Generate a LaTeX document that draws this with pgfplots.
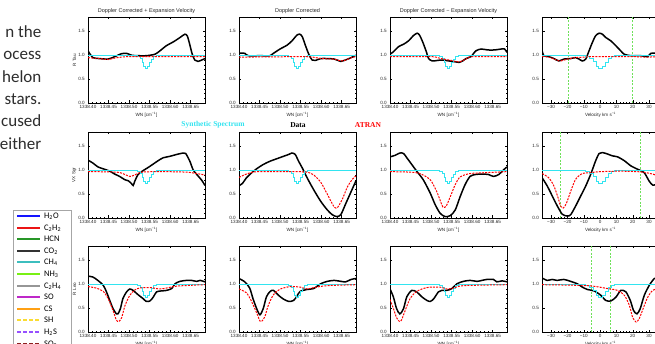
\documentclass[border=0pt]{standalone}
\usepackage{pgfplots}
\pgfplotsset{compat=1.18}
\usepackage{fontspec}
\setmainfont{Carlito}
\newfontfamily\lsans{Liberation Sans}
\newfontfamily\lserif{Liberation Serif}
\definecolor{cyanS}{RGB}{50,228,240}
\definecolor{grn}{RGB}{110,225,90}
\definecolor{slidetxt}{RGB}{45,45,45}
\definecolor{lgH2O}{RGB}{20,20,255}
\definecolor{lgCtwoHtwo}{RGB}{235,20,20}
\definecolor{lgHCN}{RGB}{40,150,40}
\definecolor{lgCOtwo}{RGB}{50,50,50}
\definecolor{lgCHfour}{RGB}{60,190,190}
\definecolor{lgNHthree}{RGB}{120,240,20}
\definecolor{lgCtwoHfour}{RGB}{150,150,150}
\definecolor{lgSO}{RGB}{190,40,200}
\definecolor{lgCS}{RGB}{255,160,20}
\definecolor{lgSH}{RGB}{250,220,50}
\definecolor{lgHtwoS}{RGB}{150,80,255}
\definecolor{lgSOtwo}{RGB}{140,30,30}
\pgfplotsset{
 panel/.style={scale only axis, width=117pt, height=86pt, anchor=south west,
   ymin=0, ymax=1.8, ytick={0,0.5,1,1.5}, yticklabels={0.0,0.5,1.0,1.5},
   minor y tick num=4, tick align=inside, major tick length=2.5pt, minor tick length=1.3pt,
   every tick/.style={black, line width=0.3pt},
   axis line style={line width=0.4pt},
   tick label style={font=\fontsize{4.6}{5}\selectfont\lsans, inner sep=1pt, text=black!85},
   label style={font=\fontsize{4.6}{5}\selectfont\lsans, inner sep=1pt, text=black!85},
   xlabel style={yshift=-1.5pt},
   title style={font=\fontsize{5.5}{6}\selectfont\lsans, inner sep=1pt, yshift=-4pt, text=black!85},
   xticklabel style={yshift=-1pt},
   yticklabel style={xshift=-2pt},
   clip=true},
 wn/.style={xmin=1338.40, xmax=1338.685,
   xtick={1338.40,1338.45,1338.50,1338.55,1338.60,1338.65},
   xticklabels={1338.40,1338.45,1338.50,1338.55,1338.60,1338.65},
   minor x tick num=4, xlabel={WN [cm\textsuperscript{−1}]}},
 vel/.style={xmin=-35.6, xmax=36.1, xtick={-30,-20,-10,0,10,20,30},
   xticklabels={−30,−20,−10,0,10,20,30},
   minor x tick num=4, xlabel={Velocity km s\textsuperscript{−1}}},
 dat/.style={black, line width=1.5pt, smooth, tension=0.45},
 syn/.style={cyanS, line width=0.9pt, const plot},
 atr/.style={red, line width=1.0pt, dash pattern=on 2pt off 1.2pt, smooth, tension=0.45},
 gv/.style={grn, line width=0.5pt, dash pattern=on 2pt off 1.5pt},
}
\newcommand{\synwn}{\addplot[syn] coordinates {(1338.400,1.00) (1338.521,0.98) (1338.527,0.93) (1338.532,0.85) (1338.536,0.77) (1338.540,0.72) (1338.546,0.76) (1338.550,0.84) (1338.555,0.92) (1338.560,0.98) (1338.566,1.00) (1338.685,1.00)};}
\newcommand{\synvel}{\addplot[syn] coordinates {(-35.6,1.00) (-9,0.98) (-6.5,0.94) (-4.3,0.86) (-2.3,0.77) (-0.8,0.72) (1.5,0.76) (3.2,0.85) (5.2,0.93) (7.2,0.98) (9,1.00) (36.1,1.00)};}
\newcommand{\lgentry}[4]{%
  \draw[draw=#1, line width=2pt, #2] (17pt,-#3pt) -- (40pt,-#3pt);
  \node[anchor=west, inner sep=0pt, font=\fontsize{8.5}{9}\selectfont, text=black] at (44pt,-#3pt) {#4};}
\begin{document}
\begin{tikzpicture}
\path[use as bounding box] (0,0) rectangle (655pt,-344pt);
\clip (0,0) rectangle (655pt,-344pt);
\fill[white] (0,0) rectangle (655pt,-344pt);
% slide text
\begin{scope}[every node/.style={anchor=base east, inner sep=0pt, font=\fontsize{17}{20}\selectfont, text=slidetxt}]
\node at (41.5pt,-37.5pt) {n the};
\node at (41.5pt,-60pt) {ocess};
\node at (41.5pt,-82.3pt) {helon};
\node at (41.5pt,-104.2pt) {stars.};
\node at (41.5pt,-126.8pt) {cused};
\node at (41.5pt,-149.5pt) {either};
\end{scope}
% legend
\draw[black!35, line width=0.5pt] (13pt,-210pt) rectangle (71pt,-360pt);
\lgentry{lgH2O}{solid}{216}{H\textsubscript{2}O}
\lgentry{lgCtwoHtwo}{solid}{228}{C\textsubscript{2}H\textsubscript{2}}
\lgentry{lgHCN}{solid}{239}{HCN}
\lgentry{lgCOtwo}{solid}{251}{CO\textsubscript{2}}
\lgentry{lgCHfour}{solid}{262}{CH\textsubscript{4}}
\lgentry{lgNHthree}{solid}{274}{NH\textsubscript{3}}
\lgentry{lgCtwoHfour}{solid}{286}{C\textsubscript{2}H\textsubscript{4}}
\lgentry{lgSO}{solid}{297}{SO}
\lgentry{lgCS}{solid}{309}{CS}
\lgentry{lgSH}{dash pattern=on 4pt off 2pt}{320}{SH}
\lgentry{lgHtwoS}{dash pattern=on 4pt off 2pt}{332}{H\textsubscript{2}S}
\lgentry{lgSOtwo}{dash pattern=on 4pt off 2pt}{344}{SO\textsubscript{2}}
% row 2 captions
\node[font=\fontsize{7.5}{8}\selectfont\lserif\bfseries, text=cyanS] at (213pt,-125pt) {Synthetic Spectrum};
\node[font=\fontsize{7.5}{8}\selectfont\lserif\bfseries, text=black] at (298pt,-125pt) {Data};
\node[font=\fontsize{7.5}{8}\selectfont\lserif\bfseries, text=red] at (368pt,-125pt) {ATRAN};

%================ ROW 1 : R Tau
\begin{axis}[panel, wn, at={(88pt,-103pt)}, title={Doppler Corrected + Expansion Velocity}, ylabel={R Tau}]
\addplot[dat] coordinates {(1338.400,1.09) (1338.412,0.95) (1338.428,0.93) (1338.449,0.92) (1338.465,0.97) (1338.481,1.03) (1338.494,1.04) (1338.506,1.00) (1338.522,0.99) (1338.542,0.99) (1338.563,1.02) (1338.575,1.09) (1338.591,1.20) (1338.608,1.28) (1338.624,1.37) (1338.636,1.44) (1338.642,1.40) (1338.648,1.22) (1338.654,1.02) (1338.660,0.90) (1338.668,0.87) (1338.685,0.93)};
\synwn
\addplot[atr] coordinates {(1338.400,0.95) (1338.412,0.94) (1338.428,0.93) (1338.449,0.91) (1338.465,0.94) (1338.481,0.96) (1338.506,0.97) (1338.685,0.97)};
\end{axis}
\begin{axis}[panel, wn, at={(239pt,-103pt)}, title={Doppler Corrected}]
\addplot[dat] coordinates {(1338.400,1.04) (1338.414,1.04) (1338.422,0.99) (1338.451,0.99) (1338.476,0.99) (1338.484,1.04) (1338.500,1.13) (1338.517,1.21) (1338.529,1.30) (1338.541,1.42) (1338.548,1.44) (1338.554,1.39) (1338.562,1.20) (1338.570,1.02) (1338.578,0.90) (1338.586,0.89) (1338.599,0.93) (1338.615,0.93) (1338.632,0.92) (1338.648,0.87) (1338.656,0.89) (1338.668,0.93) (1338.685,1.00)};
\synwn
\addplot[atr] coordinates {(1338.400,0.96) (1338.550,0.97) (1338.580,0.96) (1338.600,0.93) (1338.630,0.92) (1338.648,0.88) (1338.660,0.90) (1338.675,0.95) (1338.685,0.97)};
\end{axis}
\begin{axis}[panel, wn, at={(390pt,-103pt)}, title={Doppler Corrected − Expansion Velocity}]
\addplot[dat] coordinates {(1338.400,1.02) (1338.408,1.07) (1338.421,1.18) (1338.433,1.23) (1338.445,1.30) (1338.457,1.41) (1338.466,1.46) (1338.472,1.42) (1338.480,1.27) (1338.489,1.06) (1338.494,0.93) (1338.503,0.88) (1338.515,0.89) (1338.527,0.90) (1338.544,0.88) (1338.560,0.86) (1338.568,0.85) (1338.577,0.88) (1338.585,0.93) (1338.597,0.97) (1338.609,1.09) (1338.622,1.13) (1338.638,1.11) (1338.655,1.11) (1338.671,1.13) (1338.679,1.13) (1338.685,1.06)};
\synwn
\addplot[atr] coordinates {(1338.400,0.97) (1338.500,0.97) (1338.515,0.95) (1338.530,0.92) (1338.550,0.89) (1338.568,0.86) (1338.585,0.92) (1338.600,0.97) (1338.685,0.97)};
\end{axis}
\begin{axis}[panel, vel, at={(542pt,-103pt)}]
\addplot[gv] coordinates {(-19.5,0) (-19.5,1.8)};
\addplot[gv] coordinates {(20,0) (20,1.8)};
\addplot[dat] coordinates {(-35.5,1.09) (-34.5,0.99) (-31.4,0.97) (-28.3,0.93) (-25.2,0.88) (-22.1,0.92) (-18,0.93) (-15,0.95) (-12.9,0.92) (-10.9,0.88) (-8.8,0.92) (-6.8,1.09) (-4.7,1.27) (-2.7,1.41) (-0.6,1.46) (1.4,1.44) (3.5,1.37) (6.6,1.30) (9.6,1.20) (12.7,1.09) (14.8,1.02) (18.9,0.99) (25,0.99) (29.1,0.97) (31.1,1.04) (34.2,1.04) (36.1,1.02)};
\synvel
\addplot[atr] coordinates {(-35.5,0.97) (-31,0.96) (-25,0.88) (-20,0.92) (-15,0.95) (-10,0.96) (-5,0.97) (20,0.97) (28,0.96) (36.1,0.97)};
\end{axis}

%================ ROW 2 : VX Sgr
\begin{axis}[panel, wn, at={(88pt,-218pt)}, ylabel={VX Sgr}]
\addplot[dat] coordinates {(1338.400,1.21) (1338.412,1.15) (1338.424,1.07) (1338.437,1.03) (1338.453,0.98) (1338.465,0.92) (1338.477,0.87) (1338.490,0.80) (1338.498,0.78) (1338.506,0.72) (1338.510,0.68) (1338.514,0.77) (1338.522,0.91) (1338.534,0.99) (1338.547,1.06) (1338.559,1.13) (1338.571,1.20) (1338.583,1.26) (1338.599,1.29) (1338.616,1.33) (1338.632,1.36) (1338.638,1.35) (1338.648,1.19) (1338.656,1.01) (1338.665,0.91) (1338.677,0.79) (1338.685,0.68)};
\synwn
\addplot[atr] coordinates {(1338.400,0.97) (1338.470,0.96) (1338.490,0.91) (1338.502,0.87) (1338.514,0.90) (1338.530,0.96) (1338.580,0.97) (1338.640,0.96) (1338.665,0.93) (1338.685,0.90)};
\end{axis}
\begin{axis}[panel, wn, at={(239pt,-218pt)}]
\addplot[dat] coordinates {(1338.400,0.68) (1338.408,0.72) (1338.418,0.84) (1338.430,0.94) (1338.443,1.03) (1338.459,1.12) (1338.476,1.19) (1338.492,1.24) (1338.508,1.29) (1338.521,1.33) (1338.529,1.36) (1338.537,1.33) (1338.545,1.19) (1338.554,1.05) (1338.566,0.84) (1338.582,0.59) (1338.599,0.35) (1338.615,0.17) (1338.627,0.07) (1338.638,0.03) (1338.648,0.07) (1338.660,0.30) (1338.673,0.55) (1338.685,0.78)};
\synwn
\addplot[atr] coordinates {(1338.400,0.85) (1338.418,0.92) (1338.434,0.96) (1338.451,0.97) (1338.533,0.97) (1338.566,0.96) (1338.582,0.90) (1338.599,0.75) (1338.615,0.50) (1338.627,0.30) (1338.633,0.22) (1338.640,0.22) (1338.652,0.40) (1338.664,0.65) (1338.677,0.82) (1338.685,0.88)};
\end{axis}
\begin{axis}[panel, wn, at={(390pt,-218pt)}]
\addplot[dat] coordinates {(1338.400,1.28) (1338.412,1.31) (1338.424,1.36) (1338.433,1.35) (1338.441,1.26) (1338.453,1.12) (1338.465,0.98) (1338.481,0.80) (1338.498,0.52) (1338.510,0.28) (1338.522,0.10) (1338.534,0.03) (1338.547,0.05) (1338.559,0.17) (1338.571,0.45) (1338.583,0.70) (1338.595,0.87) (1338.608,0.91) (1338.624,0.92) (1338.640,0.91) (1338.652,0.87) (1338.665,0.91) (1338.677,1.01) (1338.685,1.07)};
\synwn
\addplot[atr] coordinates {(1338.400,0.97) (1338.449,0.96) (1338.473,0.93) (1338.498,0.80) (1338.514,0.55) (1338.526,0.28) (1338.530,0.22) (1338.537,0.25) (1338.547,0.45) (1338.559,0.70) (1338.571,0.86) (1338.595,0.93) (1338.636,0.95) (1338.685,0.97)};
\end{axis}
\begin{axis}[panel, vel, at={(542pt,-218pt)}]
\addplot[gv] coordinates {(-24.3,0) (-24.3,1.8)};
\addplot[gv] coordinates {(24.5,0) (24.5,1.8)};
\addplot[dat] coordinates {(-35.5,0.84) (-32.4,0.67) (-29.3,0.46) (-26.2,0.25) (-23.2,0.08) (-20.1,0.04) (-18,0.07) (-15,0.25) (-11.9,0.46) (-8.8,0.67) (-5.7,0.92) (-2.7,1.20) (-0.6,1.35) (1.4,1.37) (4.5,1.34) (7.6,1.30) (10.7,1.28) (14.8,1.20) (18.9,1.09) (23,1.02) (27,0.95) (30.1,0.77) (32.2,0.69) (34.2,0.70) (36.1,0.72)};
\synvel
\addplot[atr] coordinates {(-35.5,0.93) (-31.4,0.84) (-28.3,0.67) (-25.8,0.43) (-24.2,0.25) (-22.5,0.21) (-20.5,0.32) (-18,0.56) (-15,0.81) (-10.9,0.93) (-5.7,0.95) (0,0.97) (12,0.98) (23,0.97) (27.9,0.95) (32.2,0.92) (36.1,0.87)};
\end{axis}

%================ ROW 3 : R Leo
\begin{axis}[panel, wn, at={(88pt,-332pt)}, ylabel={R Leo}]
\addplot[dat] coordinates {(1338.400,1.17) (1338.412,1.15) (1338.424,1.08) (1338.437,0.98) (1338.445,0.84) (1338.453,0.66) (1338.461,0.49) (1338.469,0.38) (1338.473,0.38) (1338.479,0.49) (1338.485,0.70) (1338.494,0.84) (1338.502,0.90) (1338.510,0.87) (1338.522,0.78) (1338.534,0.70) (1338.542,0.64) (1338.551,0.65) (1338.559,0.73) (1338.567,0.84) (1338.579,0.86) (1338.591,0.87) (1338.604,0.91) (1338.612,1.01) (1338.624,1.06) (1338.640,1.08) (1338.652,1.08) (1338.665,1.06) (1338.673,1.08) (1338.685,1.05)};
\synwn
\addplot[atr] coordinates {(1338.400,0.95) (1338.420,0.92) (1338.437,0.85) (1338.449,0.70) (1338.461,0.45) (1338.469,0.25) (1338.475,0.22) (1338.482,0.30) (1338.490,0.55) (1338.502,0.77) (1338.514,0.88) (1338.526,0.92) (1338.551,0.93) (1338.575,0.90) (1338.591,0.92) (1338.616,0.96) (1338.657,0.98) (1338.685,0.99)};
\end{axis}
\begin{axis}[panel, wn, at={(239pt,-332pt)}]
\addplot[dat] coordinates {(1338.400,1.12) (1338.414,1.05) (1338.426,0.92) (1338.434,0.70) (1338.443,0.49) (1338.451,0.36) (1338.459,0.49) (1338.467,0.74) (1338.476,0.85) (1338.484,0.87) (1338.496,0.77) (1338.508,0.69) (1338.521,0.64) (1338.533,0.66) (1338.541,0.75) (1338.549,0.85) (1338.566,0.89) (1338.582,0.91) (1338.599,1.01) (1338.615,1.06) (1338.632,1.08) (1338.648,1.06) (1338.660,1.05) (1338.673,1.10) (1338.685,1.12)};
\synwn
\addplot[atr] coordinates {(1338.400,0.90) (1338.418,0.82) (1338.430,0.65) (1338.443,0.40) (1338.451,0.23) (1338.455,0.22) (1338.463,0.32) (1338.471,0.55) (1338.484,0.78) (1338.501,0.90) (1338.525,0.95) (1338.549,0.94) (1338.566,0.90) (1338.582,0.93) (1338.615,0.97) (1338.685,0.99)};
\end{axis}
\begin{axis}[panel, wn, at={(390pt,-332pt)}]
\addplot[dat] coordinates {(1338.400,0.90) (1338.408,0.74) (1338.416,0.49) (1338.424,0.38) (1338.433,0.49) (1338.441,0.74) (1338.453,0.87) (1338.465,0.84) (1338.477,0.74) (1338.490,0.66) (1338.498,0.64) (1338.506,0.69) (1338.518,0.84) (1338.526,0.87) (1338.538,0.87) (1338.551,0.91) (1338.563,1.01) (1338.579,1.06) (1338.595,1.08) (1338.612,1.06) (1338.624,1.08) (1338.636,1.10) (1338.652,1.10) (1338.660,1.05) (1338.673,1.07) (1338.685,1.05)};
\synwn
\addplot[atr] coordinates {(1338.400,0.68) (1338.408,0.50) (1338.416,0.30) (1338.423,0.22) (1338.428,0.25) (1338.437,0.45) (1338.449,0.70) (1338.465,0.85) (1338.490,0.93) (1338.522,0.94) (1338.538,0.90) (1338.555,0.92) (1338.579,0.97) (1338.685,0.99)};
\end{axis}
\begin{axis}[panel, vel, at={(542pt,-332pt)}]
\addplot[gv] coordinates {(-5.3,0) (-5.3,1.8)};
\addplot[gv] coordinates {(6.2,0) (6.2,1.8)};
\addplot[dat] coordinates {(-35.5,1.13) (-32.4,1.08) (-29.4,1.10) (-26.3,1.08) (-22.2,1.10) (-18.1,1.06) (-14.0,1.01) (-10.9,0.94) (-7.8,0.89) (-3.7,0.86) (0.4,0.77) (3.5,0.66) (6.6,0.65) (9.7,0.73) (12.7,0.87) (15.8,0.84) (18.5,0.66) (20.5,0.45) (22.6,0.38) (24.6,0.49) (27.1,0.77) (30.2,0.98) (33.3,1.12) (36.1,1.13)};
\synvel
\addplot[atr] coordinates {(-35.5,0.99) (-7.8,0.97) (4.5,0.91) (10.7,0.87) (14.8,0.77) (17.9,0.56) (19.9,0.31) (22.0,0.21) (24.0,0.28) (26.7,0.52) (29.2,0.73) (32.2,0.87) (36.1,0.91)};
\end{axis}
\end{tikzpicture}
\end{document}
